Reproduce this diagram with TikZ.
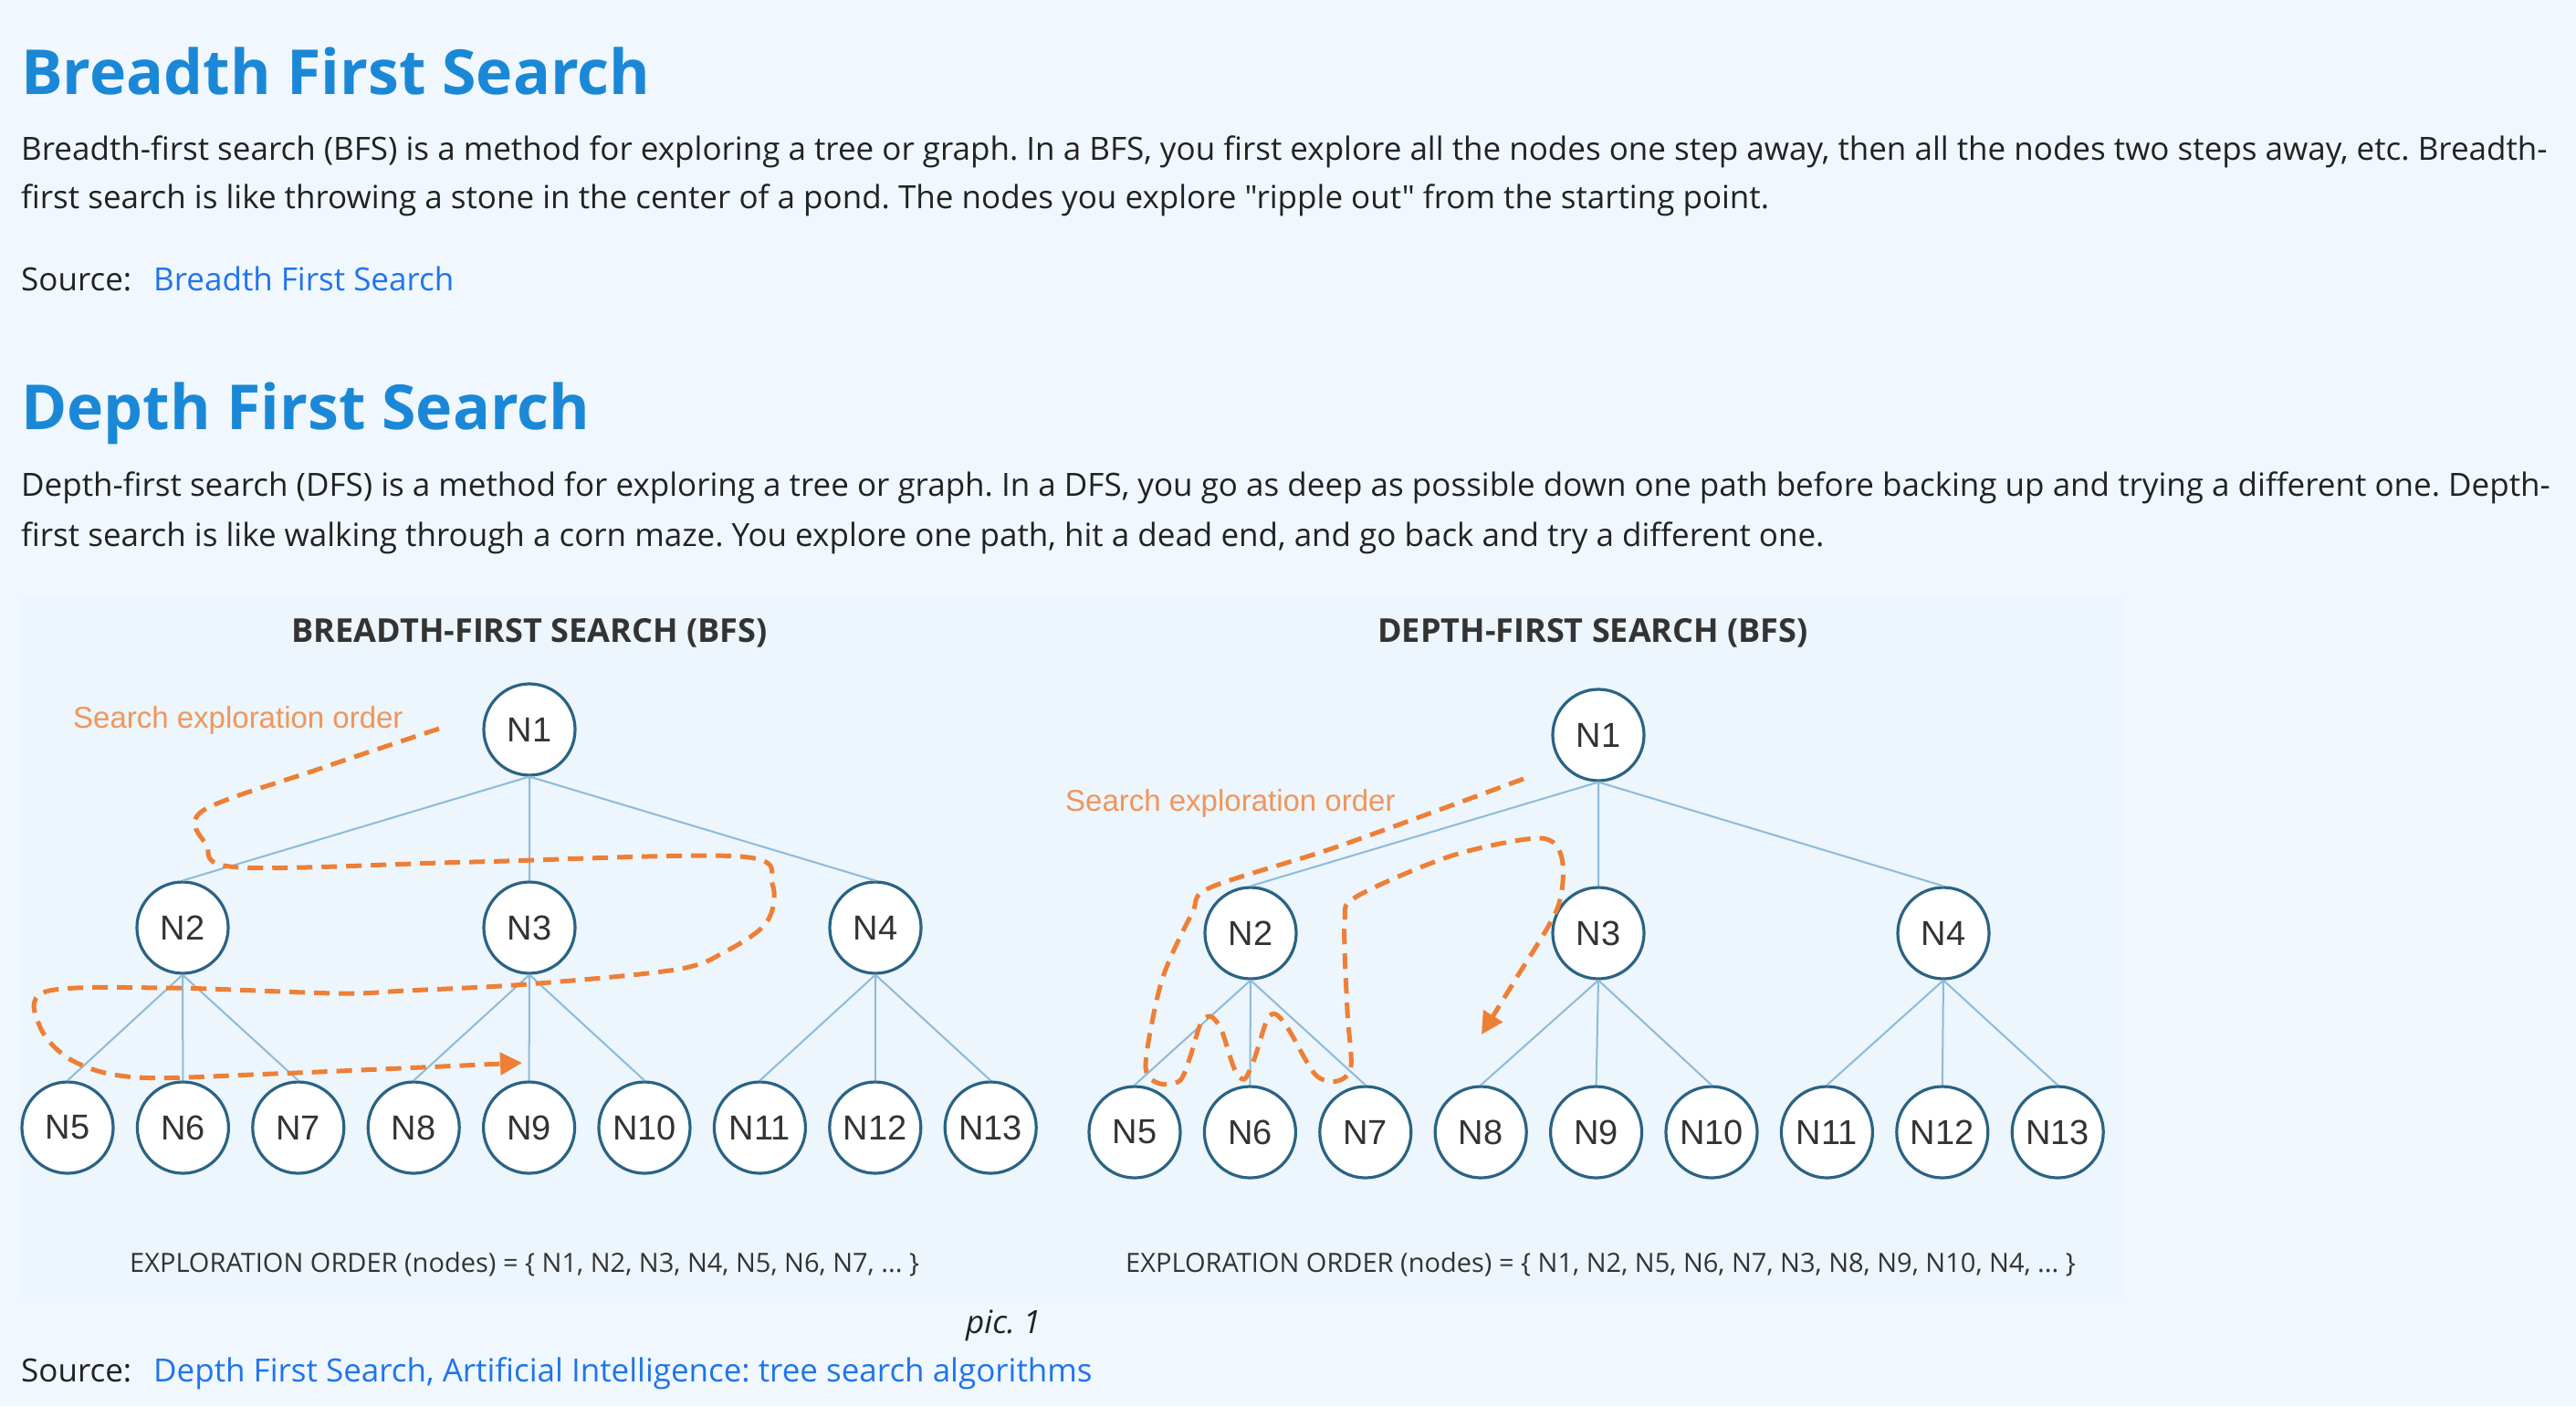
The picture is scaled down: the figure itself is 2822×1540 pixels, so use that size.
\documentclass[tikz,border=0pt]{standalone}
\usepackage{fontspec}
\setmainfont{Open Sans}[Ligatures=TeXOff]
\newfontfamily\labelfont{Liberation Sans}
\usepackage{xcolor}
\usetikzlibrary{arrows.meta, positioning}
\frenchspacing

\definecolor{pagebg}{HTML}{F0F7FE}
\definecolor{picbg}{HTML}{EDF5FD}
\definecolor{headblue}{HTML}{1A88D6}
\definecolor{linkblue}{HTML}{1F74EC}
\definecolor{bodytext}{HTML}{222222}
\definecolor{titlegray}{HTML}{333333}
\definecolor{edgeblue}{HTML}{8DBBD8}
\definecolor{ringblue}{HTML}{2A6384}
\definecolor{trailorange}{HTML}{EE7F35}
\definecolor{noteorange}{HTML}{F19559}

\begin{document}
\begin{tikzpicture}[x=1pt, y=-1pt, node distance=23.2pt,
    heading/.style={anchor=base west, inner sep=0pt, text=headblue, font=\fontsize{68}{76}\selectfont\bfseries},
    para/.style={anchor=base west, inner sep=0pt, text=bodytext, font=\fontsize{35}{40}\selectfont},
    weblink/.style={anchor=base west, inner sep=0pt, text=linkblue, font=\fontsize{35}{40}\selectfont},
    figtitle/.style={anchor=base, inner sep=0pt, text=titlegray, font=\fontsize{36}{40}\selectfont\bfseries},
    orderline/.style={anchor=base west, inner sep=0pt, text=titlegray, font=\fontsize{29}{34}\selectfont},
    note/.style={anchor=base west, inner sep=0pt, text=noteorange, font=\labelfont\fontsize{33}{36}\selectfont},
    tnode/.style={circle, draw=ringblue, fill=white, line width=3.2pt, minimum size=100pt, inner sep=0pt, text=titlegray, font=\labelfont\fontsize{38}{38}\selectfont},
    branch/.style={draw=edgeblue, line width=2pt},
    trail/.style={draw=trailorange, line width=5pt, dash pattern=on 17pt off 10pt, line cap=butt}]

    % page and figure background
    \fill[pagebg] (0,0) rectangle (2822,1540);
    \fill[picbg] (20,655) rectangle (2325,1420);
    \useasboundingbox (0,0) rectangle (2822,1540);

    % text above the figure
    \node (bfshead) [heading] at (23,103) {Breadth First Search};
    \node (bfstext1) [para] at (23,175) {Breadth-first search (BFS) is a method for exploring a tree or graph. In a BFS, you first explore all the nodes one step away, then all the nodes two steps away, etc. Breadth-};
    \node (bfstext2) [para] at (23,228) {first search is like throwing a stone in the center of a pond. The nodes you explore "ripple out" from the starting point.};
    \node (src1) [para] at (23,318) {Source:};
    \node (lnk1) [weblink] at (168,318) {Breadth First Search};

    \node (dfshead) [heading] at (23,470) {Depth First Search};
    \node (dfstext1) [para] at (23,543) {Depth-first search (DFS) is a method for exploring a tree or graph. In a DFS, you go as deep as possible down one path before backing up and trying a different one. Depth-};
    \node (dfstext2) [para] at (23,598) {first search is like walking through a corn maze. You explore one path, hit a dead end, and go back and try a different one.};

    % BFS tree
    \node (bfstitle) [figtitle] at (580,703) {BREADTH-FIRST SEARCH (BFS)};
    \node (b1) [tnode] at (580,799) {N1};
    \node (b2) [tnode] at (200,1016) {N2};
    \node (b3) [tnode] at (580,1016) {N3};
    \node (b4) [tnode] at (959,1016) {N4};
    \node (b5) [tnode] at (74,1235) {N5};
    \node (b6) [tnode, right=of b5] {N6};
    \node (b7) [tnode, right=of b6] {N7};
    \node (b8) [tnode, right=of b7] {N8};
    \node (b9) [tnode, right=of b8] {N9};
    \node (b10) [tnode, right=of b9] {N10};
    \node (b11) [tnode, right=of b10] {N11};
    \node (b12) [tnode, right=of b11] {N12};
    \node (b13) [tnode, right=of b12] {N13};

    \draw [branch] (b1.south) -- (b2.north) (b1.south) -- (b3.north) (b1.south) -- (b4.north);
    \draw [branch] (b2.south) -- (b5.north) (b2.south) -- (b6.north) (b2.south) -- (b7.north);
    \draw [branch] (b3.south) -- (b8.north) (b3.south) -- (b9.north) (b3.south) -- (b10.north);
    \draw [branch] (b4.south) -- (b11.north) (b4.south) -- (b12.north) (b4.south) -- (b13.north);

    \node (bfsnote) [note] at (80,797) {Search exploration order};
    \draw [trail, -{Triangle[length=24pt, width=24pt]}] plot[smooth, tension=0.55] coordinates {
        (481,798) (350,842) (222,888) (226,925) (262,950) (518,944) (810,938)
        (846,968) (840,1010) (795,1042) (740,1062) (577,1078) (444,1085)
        (370,1088) (185,1082) (50,1086) (44,1125) (80,1162) (150,1180)
        (300,1176) (572,1164)};

    \node (bfsorder) [orderline] at (142,1393) {EXPLORATION ORDER (nodes) = \{ N1, N2, N3, N4, N5, N6, N7, ... \}};

    % DFS tree
    \node (dfstitle) [figtitle] at (1745,703) {DEPTH-FIRST SEARCH (BFS)};
    \node (d1) [tnode] at (1751,805) {N1};
    \node (d2) [tnode] at (1370,1022) {N2};
    \node (d3) [tnode] at (1751,1022) {N3};
    \node (d4) [tnode] at (2129,1022) {N4};
    \node (d5) [tnode] at (1243,1240) {N5};
    \node (d6) [tnode, right=of d5] {N6};
    \node (d7) [tnode, right=of d6] {N7};
    \node (d8) [tnode, right=of d7] {N8};
    \node (d9) [tnode, right=of d8] {N9};
    \node (d10) [tnode, right=of d9] {N10};
    \node (d11) [tnode, right=of d10] {N11};
    \node (d12) [tnode, right=of d11] {N12};
    \node (d13) [tnode, right=of d12] {N13};

    \draw [branch] (d1.south) -- (d2.north) (d1.south) -- (d3.north) (d1.south) -- (d4.north);
    \draw [branch] (d2.south) -- (d5.north) (d2.south) -- (d6.north) (d2.south) -- (d7.north);
    \draw [branch] (d3.south) -- (d8.north) (d3.south) -- (d9.north) (d3.south) -- (d10.north);
    \draw [branch] (d4.south) -- (d11.north) (d4.south) -- (d12.north) (d4.south) -- (d13.north);

    \node (dfsnote) [note] at (1167,888) {Search exploration order};
    \draw [trail, -{Triangle[length=24pt, width=24pt]}] plot[smooth, tension=0.5] coordinates {
        (1669,853) (1466,927) (1326,972) (1306,1000) (1273,1073) (1255,1165)
        (1268,1186) (1292,1184) (1303,1160) (1315,1122) (1326,1113) (1338,1128)
        (1352,1170) (1363,1182) (1374,1160) (1388,1117) (1398,1111) (1412,1128)
        (1441,1177) (1465,1184) (1480,1168) (1476,1107) (1473,1010) (1486,982)
        (1591,937) (1687,918) (1711,940) (1706,995) (1660,1073) (1623,1133)};

    \node (dfsorder) [orderline] at (1233,1393) {EXPLORATION ORDER (nodes) = \{ N1, N2, N5, N6, N7, N3, N8, N9, N10, N4, ... \}};

    % caption and second source
    \node (caption) [para, font=\fontsize{35}{40}\selectfont\itshape] at (1058,1460) {pic. 1};
    \node (src2) [para] at (23,1513) {Source:};
    \node (lnk2) [weblink] at (168,1513) {Depth First Search, Artificial Intelligence: tree search algorithms};

\end{tikzpicture}
\end{document}
